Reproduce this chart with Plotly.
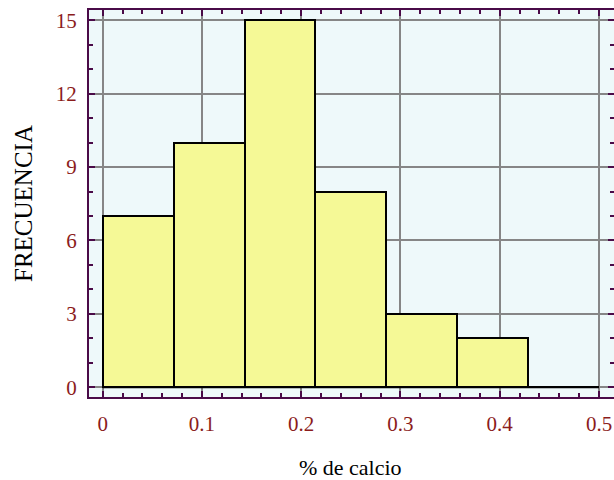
import plotly.graph_objects as go

# ---- data ----
bin_edges = [0.0, 0.0714, 0.1429, 0.2143, 0.2857, 0.3571, 0.4286, 0.5]
counts = [7, 10, 15, 8, 3, 2, 0]
x_ticks = [0, 0.1, 0.2, 0.3, 0.4, 0.5]
x_tick_labels = ["0", "0.1", "0.2", "0.3", "0.4", "0.5"]
y_ticks = [0, 3, 6, 9, 12, 15]
y_tick_labels = ["0", "3", "6", "9", "12", "15"]
x_title = "% de calcio"
y_title = "FRECUENCIA"

centers = [(a + b) / 2 for a, b in zip(bin_edges[:-1], bin_edges[1:])]
widths = [b - a for a, b in zip(bin_edges[:-1], bin_edges[1:])]

FRAME = "#4a0b48"
TICKTXT = "#8b1c1c"
GRID = "#868686"
FONT = "Liberation Serif, Times New Roman, serif"

fig = go.Figure()
fig.add_trace(go.Bar(
    x=centers, y=counts, width=widths,
    marker=dict(color="#f5f996", line=dict(color="black", width=2)),
    showlegend=False, hoverinfo="skip",
))
fig.add_trace(go.Scatter(
    x=[bin_edges[0], bin_edges[-1]], y=[0, 0], mode="lines",
    line=dict(color="black", width=2), showlegend=False, hoverinfo="skip",
))

axis_common = dict(
    showline=True, linecolor=FRAME, linewidth=2, mirror="ticks",
    ticks="inside", ticklen=6, tickwidth=2, tickcolor=FRAME,
    showgrid=True, gridcolor=GRID, gridwidth=2, zeroline=False,
    tickfont=dict(family=FONT, size=21, color=TICKTXT),
)

fig.update_xaxes(
    range=[-0.01375, 0.5151], tickvals=x_ticks, ticktext=x_tick_labels,
    minor=dict(dtick=0.02, tick0=0, ticks="inside", ticklen=4, tickwidth=1.5,
               tickcolor=FRAME, showgrid=False),
    ticklabelstandoff=7,
    **axis_common,
)
fig.update_yaxes(
    range=[-0.397, 15.42], tickvals=y_ticks, ticktext=y_tick_labels,
    minor=dict(dtick=1, tick0=0, ticks="inside", ticklen=4, tickwidth=1.5,
               tickcolor=FRAME, showgrid=False),
    ticklabelstandoff=6,
    **axis_common,
)

fig.update_layout(
    width=616, height=480,
    margin=dict(l=89, r=0, t=10, b=83, pad=0),
    paper_bgcolor="white", plot_bgcolor="#eef9fa",
    bargap=0,
    annotations=[
        dict(text=x_title, xref="paper", yref="paper", x=0.5, y=0,
             xanchor="center", yanchor="middle", yshift=-70, xshift=-1,
             showarrow=False,
             font=dict(family=FONT, size=22, color="black")),
        dict(text=y_title, xref="paper", yref="paper", x=0, y=0.5,
             xanchor="center", yanchor="middle", xshift=-65.5, textangle=-90,
             showarrow=False,
             font=dict(family=FONT, size=25, color="black")),
    ],
)

fig.write_html(
    "out.html",
    config={"displayModeBar": False},
    post_script="document.body.style.margin='0';document.body.style.overflow='hidden';",
)
